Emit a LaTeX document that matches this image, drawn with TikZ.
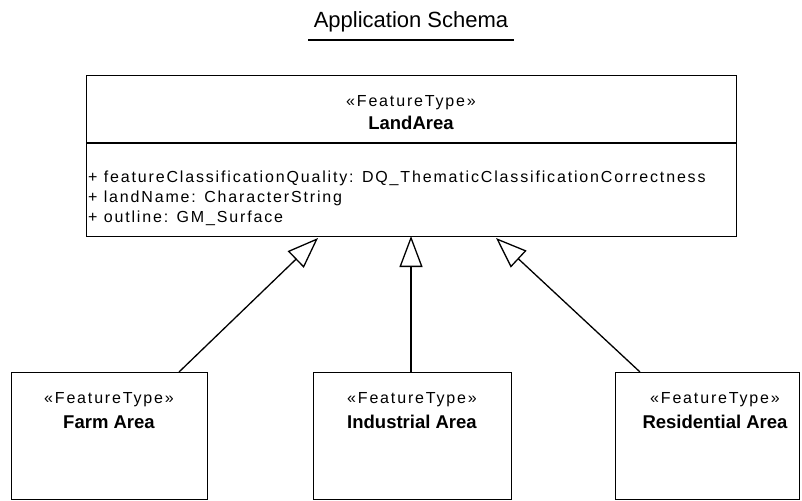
\documentclass[tikz,border=0pt]{standalone}
\usepackage{fontspec}
\setmainfont{Liberation Sans}
\newfontfamily\spaced[LetterSpace=11.5]{Liberation Sans}
\usetikzlibrary{arrows.meta}
\tikzset{
  cls/.style={draw, line width=1.3pt, anchor=north west, inner sep=0pt},
  stereo/.style={font=\spaced\fontsize{16}{18}\selectfont, anchor=center, inner sep=0pt},
  cname/.style={font=\bfseries\fontsize{18.5}{20}\selectfont, anchor=center, inner sep=0pt},
  attr/.style={font=\spaced\fontsize{16}{18}\selectfont, anchor=west, inner sep=0pt},
  gen/.style={line width=1.3pt, -{Triangle[open, length=31pt, width=23pt, line width=1.3pt]}}
}
\begin{document}
\begin{tikzpicture}[x=1pt, y=-1pt]
\useasboundingbox (0,0) rectangle (802,500);
% title
\node[font=\fontsize{22}{24}\selectfont, inner sep=0pt] (title) at (411,22) {Application Schema};
\draw[line width=1.8pt] (308,40) -- (514,40);
% LandArea
\node[cls, minimum width=650pt, minimum height=161pt] (land) at (86,75) {};
\draw[line width=1.3pt] (86,143) -- (736,143);
\node[stereo] (landst) at (411,103) {«FeatureType»};
\node[cname] (landnm) at (411,123) {LandArea};
\node[attr] (a1) at (88,178) {+\ featureClassificationQuality: DQ\_ThematicClassificationCorrectness};
\node[attr] (a2) at (88,198) {+\ landName: CharacterString};
\node[attr] (a3) at (88,218) {+\ outline: GM\_Surface};
% children
\node[cls, minimum width=196pt, minimum height=127pt] (farm) at (11,372) {};
\node[cls, minimum width=198pt, minimum height=127pt] (ind) at (313,372) {};
\node[cls, minimum width=184pt, minimum height=127pt] (res) at (615,372) {};
\node[stereo] (farmst) at (109,400) {«FeatureType»};
\node[cname] (farmnm) at (109,422) {Farm Area};
\node[stereo] (indst) at (412,400) {«FeatureType»};
\node[cname] (indnm) at (412,422) {Industrial Area};
\node[stereo] (resst) at (715,400) {«FeatureType»};
\node[cname] (resnm) at (715,422) {Residential Area};
% generalisations
\coordinate (s1) at (179,372);
\coordinate (t1) at (318,238);
\coordinate (s2) at (411,372);
\coordinate (t2) at (411,236);
\coordinate (s3) at (640,372);
\coordinate (t3) at (496,238);
\draw[gen] (s1) -- (t1);
\draw[gen] (s2) -- (t2);
\draw[gen] (s3) -- (t3);
\end{tikzpicture}
\end{document}
